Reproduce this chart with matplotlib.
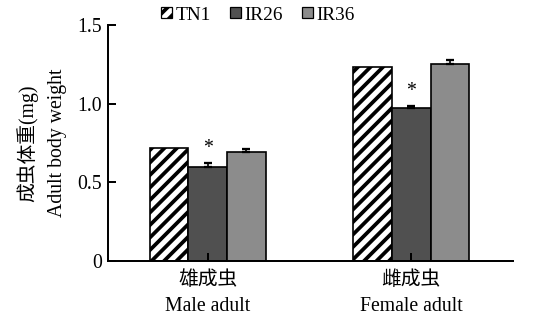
import matplotlib
matplotlib.use("Agg")
import matplotlib.pyplot as plt
import numpy as np
from matplotlib.patches import Patch

plt.rcParams['font.family'] = ['Liberation Serif', 'Noto Sans CJK SC', 'DejaVu Sans']
plt.rcParams['hatch.linewidth'] = 3.6

groups = ['雄成虫\nMale adult', '雌成虫\nFemale adult']
series = ['TN1', 'IR26', 'IR36']
values = {
    'TN1': [0.72, 1.23],
    'IR26': [0.60, 0.975],
    'IR36': [0.69, 1.25],
}
errors = {
    'TN1': [0.0, 0.0],
    'IR26': [0.025, 0.012],
    'IR36': [0.025, 0.03],
}
signif = {'IR26': [True, True]}
colors = {'TN1': 'white', 'IR26': '#505050', 'IR36': '#8c8c8c'}
hatches = {'TN1': '//', 'IR26': None, 'IR36': None}
yticks = [0, 0.5, 1.0, 1.5]
ytick_labels = ['0', '0.5', '1.0', '1.5']

DPI = 75
fig = plt.figure(figsize=(546 / DPI, 327 / DPI), dpi=DPI)
ax = fig.add_axes([108 / 546, 1 - 261 / 327, (513 - 108) / 546, (261 - 25) / 327])

x = np.arange(len(groups))
w = 0.19
fs = 19
for i, s in enumerate(series):
    pos = x + (i - 1) * w
    ax.bar(pos, values[s], width=w, color=colors[s], edgecolor='black',
           linewidth=1.6, hatch=hatches[s], zorder=2)
    err = errors[s]
    if any(e > 0 for e in err):
        ax.errorbar(pos, values[s], yerr=[np.zeros(len(err)), err], fmt='none',
                    ecolor='black', elinewidth=1.6, capsize=4, capthick=2.2, zorder=3)
    if s in signif:
        for j, flag in enumerate(signif[s]):
            if flag:
                ax.text(pos[j], values[s][j] + err[j] + 0.03, '*', ha='center',
                        va='bottom', fontsize=19, zorder=4)

ax.set_xlim(-0.49, 1.5)
ax.set_ylim(0, 1.5)
ax.set_yticks(yticks)
ax.set_yticklabels(ytick_labels, fontsize=fs)
ax.set_xticks(x)
ax.set_xticklabels(groups, fontsize=fs, linespacing=1.45)
ax.set_axisbelow(False)
ax.tick_params(axis='both', direction='in', length=7.5, width=1.9, colors='black')
ax.tick_params(axis='y', pad=6)
ax.tick_params(axis='x', pad=10)
for sp in ['top', 'right']:
    ax.spines[sp].set_visible(False)
for sp in ['left', 'bottom']:
    ax.spines[sp].set_linewidth(1.9)

ax.set_ylabel('成虫体重(mg)\nAdult body weight', fontsize=fs, linespacing=1.7, labelpad=10)

handles = [Patch(facecolor=colors[s], edgecolor='black', hatch=hatches[s], linewidth=1.2)
           for s in series]
leg = fig.legend(handles, series, loc='center', bbox_to_anchor=(258 / 546, 1 - 15 / 327),
                 ncol=3, frameon=False, fontsize=18.5, handlelength=0.55, handleheight=0.55,
                 handletextpad=0.2, columnspacing=1.0, borderpad=0)

fig.savefig('out.png', dpi=DPI)
